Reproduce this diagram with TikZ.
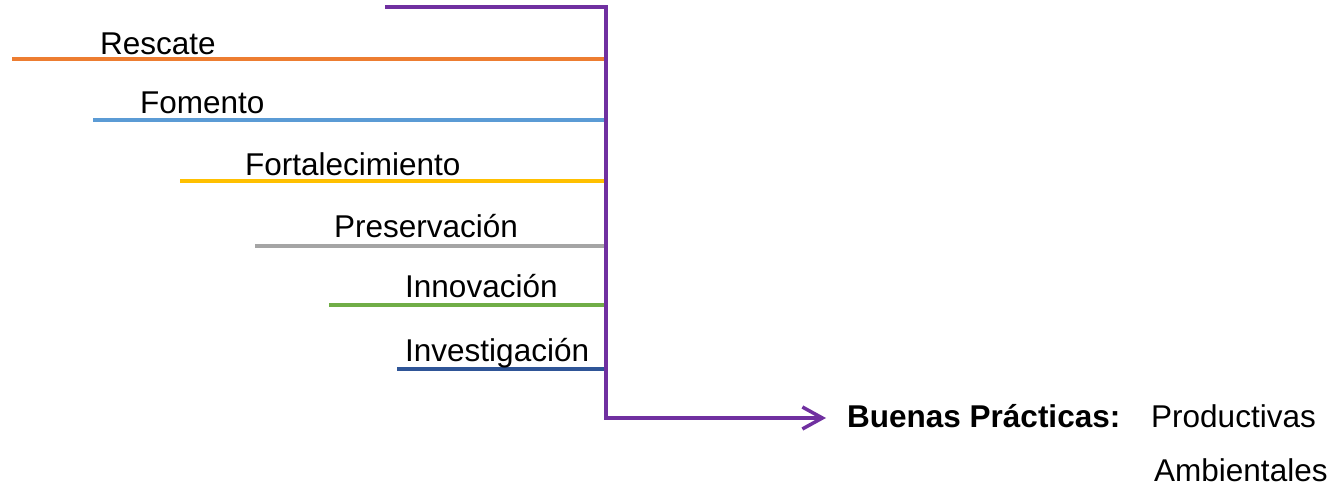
\documentclass[tikz,border=0pt]{standalone}
\usepackage{fontspec}
\setmainfont{Liberation Sans}
\usetikzlibrary{arrows.meta}
\definecolor{cOrange}{HTML}{ED7D31}
\definecolor{cBlue}{HTML}{5B9BD5}
\definecolor{cGold}{HTML}{FFC000}
\definecolor{cGray}{HTML}{A5A5A5}
\definecolor{cGreen}{HTML}{70AD47}
\definecolor{cDark}{HTML}{2F5597}
\definecolor{cPurple}{HTML}{7030A0}
\begin{document}
\begin{tikzpicture}[x=1pt,y=-1pt,
  lbl/.style={anchor=base west,inner sep=0pt,font=\fontsize{31.5}{36}\selectfont},
  bar/.style={line width=3.5pt},
  spine/.style={line width=3.5pt,color=cPurple}]
\useasboundingbox (0,0) rectangle (1334,489);
% colored lines
\coordinate (r1) at (12,59);   \coordinate (r2) at (606,59);
\coordinate (f1) at (93,120);  \coordinate (f2) at (606,120);
\coordinate (t1) at (180,181); \coordinate (t2) at (606,181);
\coordinate (p1) at (255,246); \coordinate (p2) at (606,246);
\coordinate (n1) at (329,305); \coordinate (n2) at (606,305);
\coordinate (v1) at (397,369); \coordinate (v2) at (606,369);
\draw[bar,cOrange] (r1) -- (r2);
\draw[bar,cBlue] (f1) -- (f2);
\draw[bar,cGold] (t1) -- (t2);
\draw[bar,cGray] (p1) -- (p2);
\draw[bar,cGreen] (n1) -- (n2);
\draw[bar,cDark] (v1) -- (v2);
% labels
\node[lbl] (lr) at (100,55) {Rescate};
\node[lbl] (lf) at (140,114) {Fomento};
\node[lbl] (lt) at (245,176) {Fortalecimiento};
\node[lbl] (lp) at (334,238) {Preservación};
\node[lbl] (ln) at (405,298) {Innovación};
\node[lbl] (lv) at (405,361) {Investigación};
% purple spine
\coordinate (s0) at (385,7);
\coordinate (s1) at (606,7);
\coordinate (s2) at (606,418);
\coordinate (s3) at (826,418);
\draw[spine,line join=miter,-{Straight Barb[length=20pt,width=22pt,line width=3.5pt]}] (s0) -- (s1) -- (s2) -- (s3);
% right texts
\node[lbl,font=\fontsize{31.5}{36}\selectfont\bfseries] (bp) at (847,427) {Buenas Prácticas:};
\node[lbl] (pr) at (1151,427) {Productivas};
\node[lbl] (am) at (1154,481) {Ambientales};
\end{tikzpicture}
\end{document}
